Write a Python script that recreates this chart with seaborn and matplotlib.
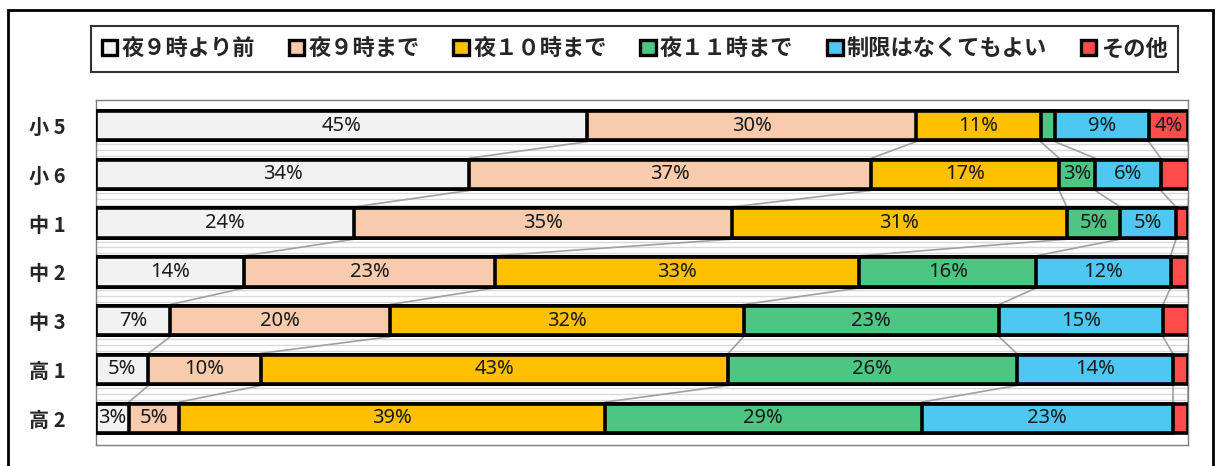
import matplotlib
matplotlib.use("Agg")
import matplotlib.pyplot as plt
import matplotlib.patches as mpatches
import seaborn as sns
import numpy as np
import pandas as pd

# データ（％）
grades = ["小 5", "小 6", "中 1", "中 2", "中 3", "高 1", "高 2"]
series = ["夜９時より前", "夜９時まで", "夜１０時まで", "夜１１時まで", "制限はなくてもよい", "その他"]
before_9 = [45.0, 34.2, 23.6, 13.6, 6.8, 4.8, 3.0]
until_9 = [30.1, 36.8, 34.6, 22.9, 20.1, 10.3, 4.6]
until_10 = [11.4, 17.2, 30.7, 33.4, 32.4, 42.8, 39.0]
until_11 = [1.3, 3.3, 4.9, 16.2, 23.4, 26.4, 29.0]
no_limit = [8.6, 6.0, 5.1, 12.3, 15.0, 14.3, 23.0]
other = [3.6, 2.6, 1.1, 1.6, 2.4, 1.4, 1.4]

colors = ["#F2F2F2", "#F8CBAD", "#FFC000", "#4DC583", "#4EC8F2", "#FF4B4B"]

sns.set_theme(style="white")
plt.rcParams["font.family"] = ["Noto Sans CJK JP", "DejaVu Sans"]

vals = np.array([before_9, until_9, until_10, until_11, no_limit, other])
cum = vals.cumsum(axis=0)

fig = plt.figure(figsize=(12.18, 4.66), dpi=100)
ax = fig.add_axes([0.0788, 0.045, 0.8966, 0.74])

bar_h = 0.6
# 積み上げ：右端（累積の大きい方）から順に描いて重ねる
for k in range(len(series) - 1, -1, -1):
    df = pd.DataFrame({"grade": grades, "value": cum[k]})
    sns.barplot(data=df, x="value", y="grade", orient="h", color=colors[k],
                saturation=1, width=bar_h, edgecolor="black", linewidth=2.6,
                ax=ax, zorder=3)

# 数値ラベル
for k in range(len(series)):
    for i in range(len(grades)):
        v = vals[k, i]
        if v >= 2.8:
            x = cum[k, i] - v / 2
            ax.text(x, i, f"{v:.0f}%", ha="center", va="center", fontsize=14.5,
                    family=["Noto Sans", "DejaVu Sans"], color="#1a1a1a", zorder=5)

# 系列線
for k in range(len(series)):
    for i in range(len(grades) - 1):
        ax.plot([cum[k, i], cum[k, i + 1]], [i + bar_h / 2 + 0.03, i + 1 - bar_h / 2 - 0.03],
                color="#A0A0A0", lw=1.2, zorder=2)

# 背景の薄い横線
for i in range(len(grades) - 1):
    for off in (-0.12, 0.0, 0.12):
        ax.axhline(i + 0.5 + off, color="#D9D9D9", lw=1.0, zorder=1)

ax.set_xlim(0, 100)
ax.set_ylim(6.55, -0.52)
ax.set_xticks([])
ax.set_xlabel("")
ax.set_ylabel("")
ax.tick_params(axis="y", length=0, pad=22)
for lab in ax.get_yticklabels():
    lab.set_fontweight("bold")
    lab.set_fontsize(14.5)
for s in ax.spines.values():
    s.set_color("#7F7F7F")
    s.set_linewidth(1.0)

# 凡例
handles = [mpatches.Patch(facecolor=c, edgecolor="black", linewidth=2.4) for c in colors]
leg = fig.legend(handles, series, loc="center", bbox_to_anchor=(0.521, 0.895), ncol=6,
                 frameon=True, fancybox=False, edgecolor="black",
                 handlelength=0.7, handleheight=0.7, handletextpad=0.2,
                 columnspacing=1.5, borderpad=0.5,
                 prop={"weight": "bold", "size": 16})
leg.get_frame().set_linewidth(1.5)

# 外枠
fig.add_artist(mpatches.Rectangle((8 / 1218, -0.05), 1205 / 1218, 0.05 + 1 - 10 / 466,
                                  transform=fig.transFigure, fill=False,
                                  edgecolor="black", linewidth=2))

fig.savefig("out.png", dpi=100)
